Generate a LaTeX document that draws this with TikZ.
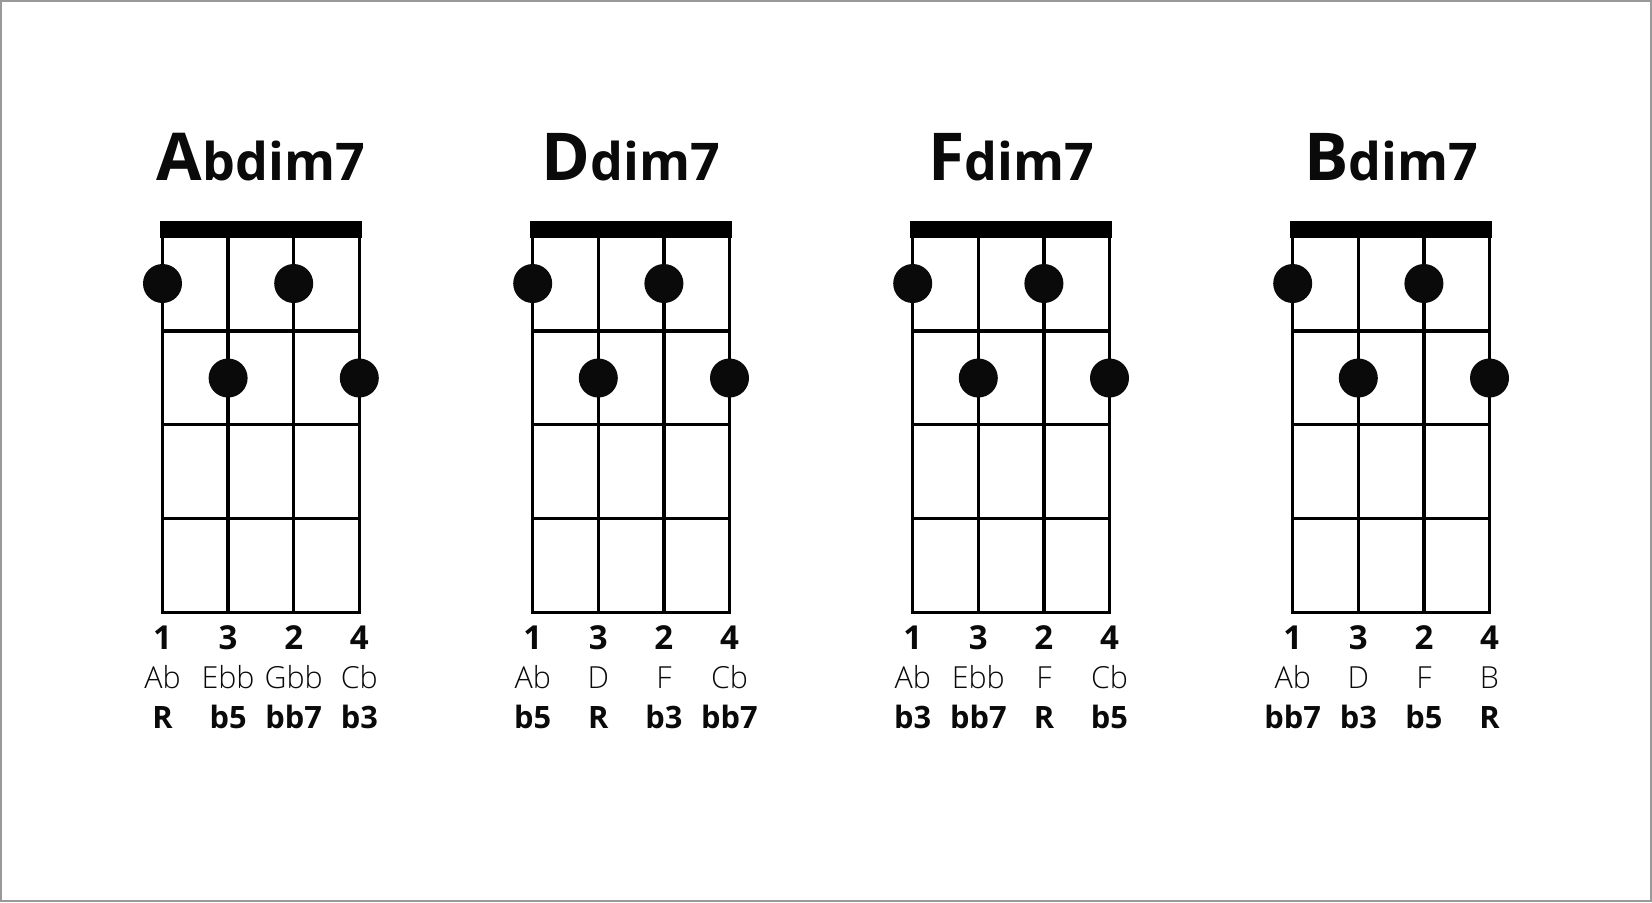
\documentclass[tikz,border=0pt]{standalone}
\usepackage{fontspec}
\setmainfont{Open Sans}
\IfFontExistsTF{Open Sans Light}{\newfontfamily\lightfont{Open Sans Light}}{\newfontfamily\lightfont{Open Sans}}
\definecolor{framegray}{HTML}{999999}
\definecolor{ink}{HTML}{0A0A0A}
\tikzset{
  gridline/.style={line width=1.75pt, draw=black},
  fretline/.style={line width=1.75pt, draw=black, line cap=rect},
  fingerdot/.style={circle, fill=ink, minimum size=19.5pt, inner sep=0pt},
  chordtitle/.style={anchor=base, inner sep=0pt, text=ink},
  fingnum/.style={anchor=base, inner sep=0pt, text=ink, font=\bfseries\fontsize{16.5pt}{16pt}\selectfont},
  notename/.style={anchor=base, inner sep=0pt, text=ink, font=\lightfont\fontsize{15.2pt}{15pt}\selectfont},
  intervalname/.style={anchor=base, inner sep=0pt, text=ink, font=\bfseries\fontsize{15.4pt}{15pt}\selectfont},
}
\begin{document}
\begin{tikzpicture}[x=0.5pt,y=-0.5pt]
\useasboundingbox (0,0) rectangle (1652,902);
\fill[white] (0,0) rectangle (1652,902);
\draw[framegray, line width=1pt] (1,1) rectangle (1651,901);
\foreach \k/\x/\rt/\rest/\na/\nb/\nc/\nd/\ia/\ib/\ic/\id in {
  1/162.5/A/bdim7/Ab/Ebb/Gbb/Cb/R/b5/bb7/b3,
  2/532.7/D/dim7/Ab/D/F/Cb/b5/R/b3/bb7,
  3/912.7/F/dim7/Ab/Ebb/F/Cb/b3/bb7/R/b5,
  4/1292.7/B/dim7/Ab/D/F/B/bb7/b3/b5/R}{
  \begin{scope}[shift={(\x,0)}]
    % nut
    \fill[black] (-2.5,221) rectangle (199.3,238);
    % strings
    \foreach \s in {0,65.6,131.2,196.8}
      \draw[gridline] (\s,237) -- (\s,612.3);
    % frets
    \foreach \f in {331,424.7,518.3,612.3}
      \draw[fretline] (0,\f) -- (196.8,\f);
    % finger dots
    \node[fingerdot] (dot\k-1) at (0,283.5) {};
    \node[fingerdot] (dot\k-2) at (65.6,378) {};
    \node[fingerdot] (dot\k-3) at (131.2,283.5) {};
    \node[fingerdot] (dot\k-4) at (196.8,378) {};
    % title
    \node[chordtitle] (title\k) at (98.4,180)
      {\bfseries{\fontsize{33pt}{33pt}\selectfont\rt}{\fontsize{26pt}{26pt}\selectfont\rest}};
    % finger numbers
    \node[fingnum] (num\k-1) at (0,649) {1};
    \node[fingnum] (num\k-2) at (65.6,649) {3};
    \node[fingnum] (num\k-3) at (131.2,649) {2};
    \node[fingnum] (num\k-4) at (196.8,649) {4};
    % note names
    \node[notename] (note\k-1) at (0,688.5) {\na};
    \node[notename] (note\k-2) at (65.6,688.5) {\nb};
    \node[notename] (note\k-3) at (131.2,688.5) {\nc};
    \node[notename] (note\k-4) at (196.8,688.5) {\nd};
    % intervals
    \node[intervalname] (int\k-1) at (0,728.5) {\ia};
    \node[intervalname] (int\k-2) at (65.6,728.5) {\ib};
    \node[intervalname] (int\k-3) at (131.2,728.5) {\ic};
    \node[intervalname] (int\k-4) at (196.8,728.5) {\id};
  \end{scope}
}
\end{tikzpicture}
\end{document}
